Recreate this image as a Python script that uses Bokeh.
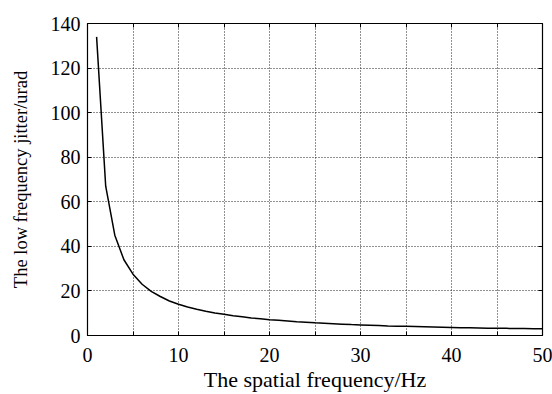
from bokeh.plotting import figure
from bokeh.models import FixedTicker, LinearAxis, Range1d, ColumnDataSource
from bokeh.embed import file_html
from bokeh.resources import INLINE

freq_hz = list(range(1, 51))
jitter_urad = [134, 67, 45, 34, 27.5, 23, 19.8, 17.5, 15.5, 14,
               12.8, 11.8, 10.9, 10.1, 9.5, 8.9, 8.4, 7.9, 7.5, 7.1,
               6.8, 6.5, 6.2, 6.0, 5.7, 5.5, 5.3, 5.1, 4.9, 4.75,
               4.6, 4.45, 4.3, 4.2, 4.1, 4.0, 3.9, 3.8, 3.7, 3.6,
               3.5, 3.45, 3.4, 3.3, 3.25, 3.2, 3.15, 3.1, 3.05, 3.0]
x_major_ticks = [0, 10, 20, 30, 40, 50]
x_minor_ticks = [5, 15, 25, 35, 45]
x_grid_ticks = [0, 5, 10, 15, 20, 25, 30, 35, 40, 45, 50]
y_ticks = [0, 20, 40, 60, 80, 100, 120, 140]

FONT = "Liberation Serif"

p = figure(width=552, height=394, output_backend="svg", toolbar_location=None,
           x_range=Range1d(0, 50), y_range=Range1d(0, 140),
           min_border_left=87, min_border_right=10, min_border_top=23, min_border_bottom=20)
p.background_fill_color = "white"
p.border_fill_color = "white"
p.outline_line_color = "black"
p.outline_line_width = 1.2

src = ColumnDataSource(dict(x=freq_hz, y=jitter_urad))
p.line("x", "y", source=src, line_color="black", line_width=1.5)

xa = p.xaxis[0]
xa.ticker = FixedTicker(ticks=x_major_ticks, minor_ticks=x_minor_ticks)
xa.axis_label = "The spatial frequency/Hz"
ya = p.yaxis[0]
ya.ticker = FixedTicker(ticks=y_ticks)
ya.axis_label = "The low frequency jitter/urad"

for ax in (xa, ya):
    ax.axis_label_text_font = FONT
    ax.axis_label_text_font_style = "normal"
    ax.axis_label_text_color = "black"
    ax.major_label_text_font = FONT
    ax.major_label_text_font_size = "20px"
    ax.major_label_text_color = "black"
    ax.major_tick_in = 4
    ax.major_tick_out = 0
    ax.minor_tick_in = 4
    ax.minor_tick_out = 0
    ax.axis_line_color = "black"
    ax.major_tick_line_color = "black"
    ax.minor_tick_line_color = "black"
xa.axis_label_text_font_size = "22px"
ya.axis_label_text_font_size = "18.5px"
xa.major_label_standoff = 12
xa.axis_label_standoff = 2
ya.major_label_standoff = 7
ya.axis_label_standoff = 17

top = LinearAxis(ticker=FixedTicker(ticks=[], minor_ticks=x_grid_ticks),
                 major_tick_in=0, major_tick_out=0, minor_tick_in=4, minor_tick_out=0,
                 axis_line_color="black", minor_tick_line_color="black",
                 major_label_standoff=0)
right = LinearAxis(ticker=FixedTicker(ticks=[], minor_ticks=y_ticks),
                   major_tick_in=0, major_tick_out=0, minor_tick_in=4, minor_tick_out=0,
                   axis_line_color="black", minor_tick_line_color="black",
                   major_label_standoff=0)
p.add_layout(top, "above")
p.add_layout(right, "right")

p.xgrid.ticker = FixedTicker(ticks=x_grid_ticks)
p.ygrid.ticker = FixedTicker(ticks=y_ticks)
for g in (p.xgrid[0], p.ygrid[0]):
    g.grid_line_color = "#222222"
    g.grid_line_dash = "1 2"
    g.grid_line_width = 1

open("out.html", "w").write(file_html(p, INLINE))
